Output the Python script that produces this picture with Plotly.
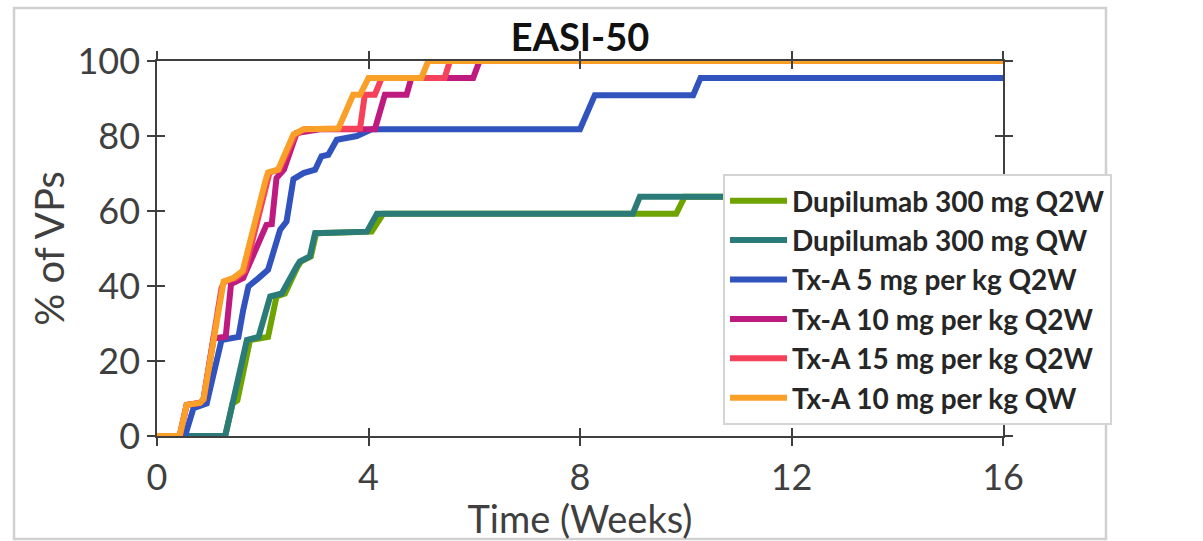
import plotly.graph_objects as go

# ---------------- data (time in weeks, % of virtual patients) ----------------
series_names = [
    "Dupilumab 300 mg Q2W",
    "Dupilumab 300 mg QW",
    "Tx-A 5 mg per kg Q2W",
    "Tx-A 10 mg per kg Q2W",
    "Tx-A 15 mg per kg Q2W",
    "Tx-A 10 mg per kg QW",
]
series_colors = ["#6FA300", "#2B7B78", "#3153BD", "#BF1A80", "#F5425A", "#FA9F27"]

weeks_dup_q2w = [0, 1.29, 1.43, 1.52, 1.76, 2.10, 2.26, 2.42, 2.66, 2.72, 2.91, 3.01, 4.06, 4.28, 9.82, 9.98, 16]
pct_dup_q2w = [0, 0, 8.7, 9.5, 25.6, 26.4, 37.2, 38, 45.2, 46.5, 47.9, 54.1, 54.5, 59.3, 59.3, 63.8, 63.8]

weeks_dup_qw = [0, 1.29, 1.70, 1.92, 2.14, 2.36, 2.64, 2.70, 2.89, 2.99, 3.97, 4.16, 9.0, 9.13, 16]
pct_dup_qw = [0, 0, 25.6, 26.4, 37.2, 38, 45.2, 46.5, 47.9, 54.1, 54.5, 59.3, 59.3, 63.8, 63.8]

weeks_txa5_q2w = [0, 0.53, 0.69, 0.94, 1.22, 1.54, 1.63, 1.73, 1.92, 2.10, 2.33, 2.45, 2.58, 2.77, 2.99,
                  3.11, 3.24, 3.40, 3.78, 4.06, 8.0, 8.28, 10.14, 10.28, 16]
pct_txa5_q2w = [0, 0, 7.4, 8.7, 25.6, 26.4, 33.6, 39.9, 42.1, 44.3, 55, 57.2, 68.5, 70.1, 71,
                74.6, 75, 79, 80, 81.8, 81.8, 90.9, 90.9, 95.5, 95.5]

weeks_txa10_q2w = [0, 0.43, 0.56, 0.81, 0.88, 1.07, 1.30, 1.40, 1.63, 2.07, 2.17, 2.26, 2.40, 2.64, 3.08,
                   4.12, 4.31, 4.72, 4.81, 5.98, 6.10, 16]
pct_txa10_q2w = [0, 0, 8.3, 8.8, 9.8, 26, 26.5, 40.5, 42.1, 56.3, 56.5, 68.8, 71, 80.8, 81.8,
                 81.8, 91, 91, 95.5, 95.5, 100, 100]

weeks_txa15_q2w = [0, 0.43, 0.56, 0.81, 0.88, 1.22, 1.28, 1.50, 1.66, 2.09, 2.13, 2.31, 2.62, 2.80, 3.84,
                   3.93, 4.12, 4.25, 5.44, 5.54, 16]
pct_txa15_q2w = [0, 0, 8.3, 8.8, 9.8, 39.5, 41.2, 42.2, 44, 68, 70.3, 71, 80.4, 81.8, 82,
                 91, 91, 95.5, 95.5, 100, 100]

weeks_txa10_qw = [0, 0.43, 0.56, 0.81, 0.88, 1.22, 1.26, 1.45, 1.62, 2.05, 2.10, 2.29, 2.58, 2.77, 3.43,
                  3.71, 3.84, 4.00, 5.00, 5.13, 16]
pct_txa10_qw = [0, 0, 8.3, 8.8, 9.8, 39.5, 41.2, 42.2, 44, 68, 70.3, 71, 80.4, 81.8, 82,
                91, 91, 95.5, 95.5, 100, 100]

x_ticks = [0, 4, 8, 12, 16]
y_ticks = [0, 20, 40, 60, 80, 100]

all_weeks = [weeks_dup_q2w, weeks_dup_qw, weeks_txa5_q2w, weeks_txa10_q2w, weeks_txa15_q2w, weeks_txa10_qw]
all_pct = [pct_dup_q2w, pct_dup_qw, pct_txa5_q2w, pct_txa10_q2w, pct_txa15_q2w, pct_txa10_qw]

# ---------------- figure ----------------
FONT = "Lato"
AX = "#3f3f3f"
W, H = 1203, 541
L, R, T, B = 157, 200, 61, 105
PW, PH = W - L - R, H - T - B

fig = go.Figure()
for name, col, xs, ys in zip(series_names, series_colors, all_weeks, all_pct):
    fig.add_trace(go.Scatter(
        x=xs, y=ys, mode="lines", name=name,
        line=dict(color=col, width=6), cliponaxis=False,
    ))

common_x = dict(range=[0, 16], tickvals=x_ticks, showgrid=False, zeroline=False, fixedrange=True)
common_y = dict(range=[0, 100], tickvals=y_ticks, showgrid=False, zeroline=False, fixedrange=True)

fig.update_layout(
    width=W, height=H,
    margin=dict(l=L, r=R, t=T, b=B, autoexpand=False),
    paper_bgcolor="white", plot_bgcolor="white",
    font=dict(family=FONT, color=AX),
    title=dict(text="<b>EASI-50</b>", x=0.5, xref="paper", xanchor="center",
               y=1 - 38 / H, yref="container", yanchor="middle",
               font=dict(family=FONT, size=38, color="#111111")),
    xaxis=dict(**common_x, showline=True, linecolor=AX, linewidth=1.5, mirror="ticks",
               ticks="outside", ticklen=8, tickwidth=1.5, tickcolor=AX,
               tickfont=dict(size=36, color=AX), ticklabelstandoff=1,
               title=dict(text="Time (Weeks)", font=dict(size=38, color=AX), standoff=5)),
    yaxis=dict(**common_y, showline=True, linecolor=AX, linewidth=1.5, mirror="ticks",
               ticks="outside", ticklen=8, tickwidth=1.5, tickcolor=AX,
               tickfont=dict(size=36, color=AX), ticklabelstandoff=0,
               title=dict(text="% of VPs", font=dict(size=40, color=AX), standoff=0)),
    xaxis2=dict(**common_x, overlaying="x", showline=False, mirror="ticks",
                ticks="inside", ticklen=8, tickwidth=1.5, tickcolor=AX, showticklabels=False),
    yaxis2=dict(**common_y, overlaying="y", showline=False, mirror="ticks",
                ticks="inside", ticklen=8, tickwidth=1.5, tickcolor=AX, showticklabels=False),
    legend=dict(x=(723 - L) / PW, y=(H - B - 174) / PH,
                xanchor="left", yanchor="top",
                bgcolor="white", bordercolor="#d4d4d4", borderwidth=2,
                font=dict(family=FONT, size=28, color="#262626", weight="bold"),
                itemwidth=57),
    shapes=[dict(type="rect", xref="paper", yref="paper",
                 x0=(14 - L) / PW, x1=(1106 - L) / PW,
                 y0=(H - B - 539) / PH, y1=(H - B - 8) / PH,
                 line=dict(color="#d0d0d0", width=2.5), layer="below")],
)

# invisible helper so the overlay axes are rendered
fig.add_trace(go.Scatter(x=[0], y=[0], xaxis="x2", yaxis="y2", mode="markers",
                         marker=dict(opacity=0), showlegend=False, hoverinfo="skip"))

fig.write_html("out.html", config={"displayModeBar": False},
               post_script="document.body.style.margin='0px';")
